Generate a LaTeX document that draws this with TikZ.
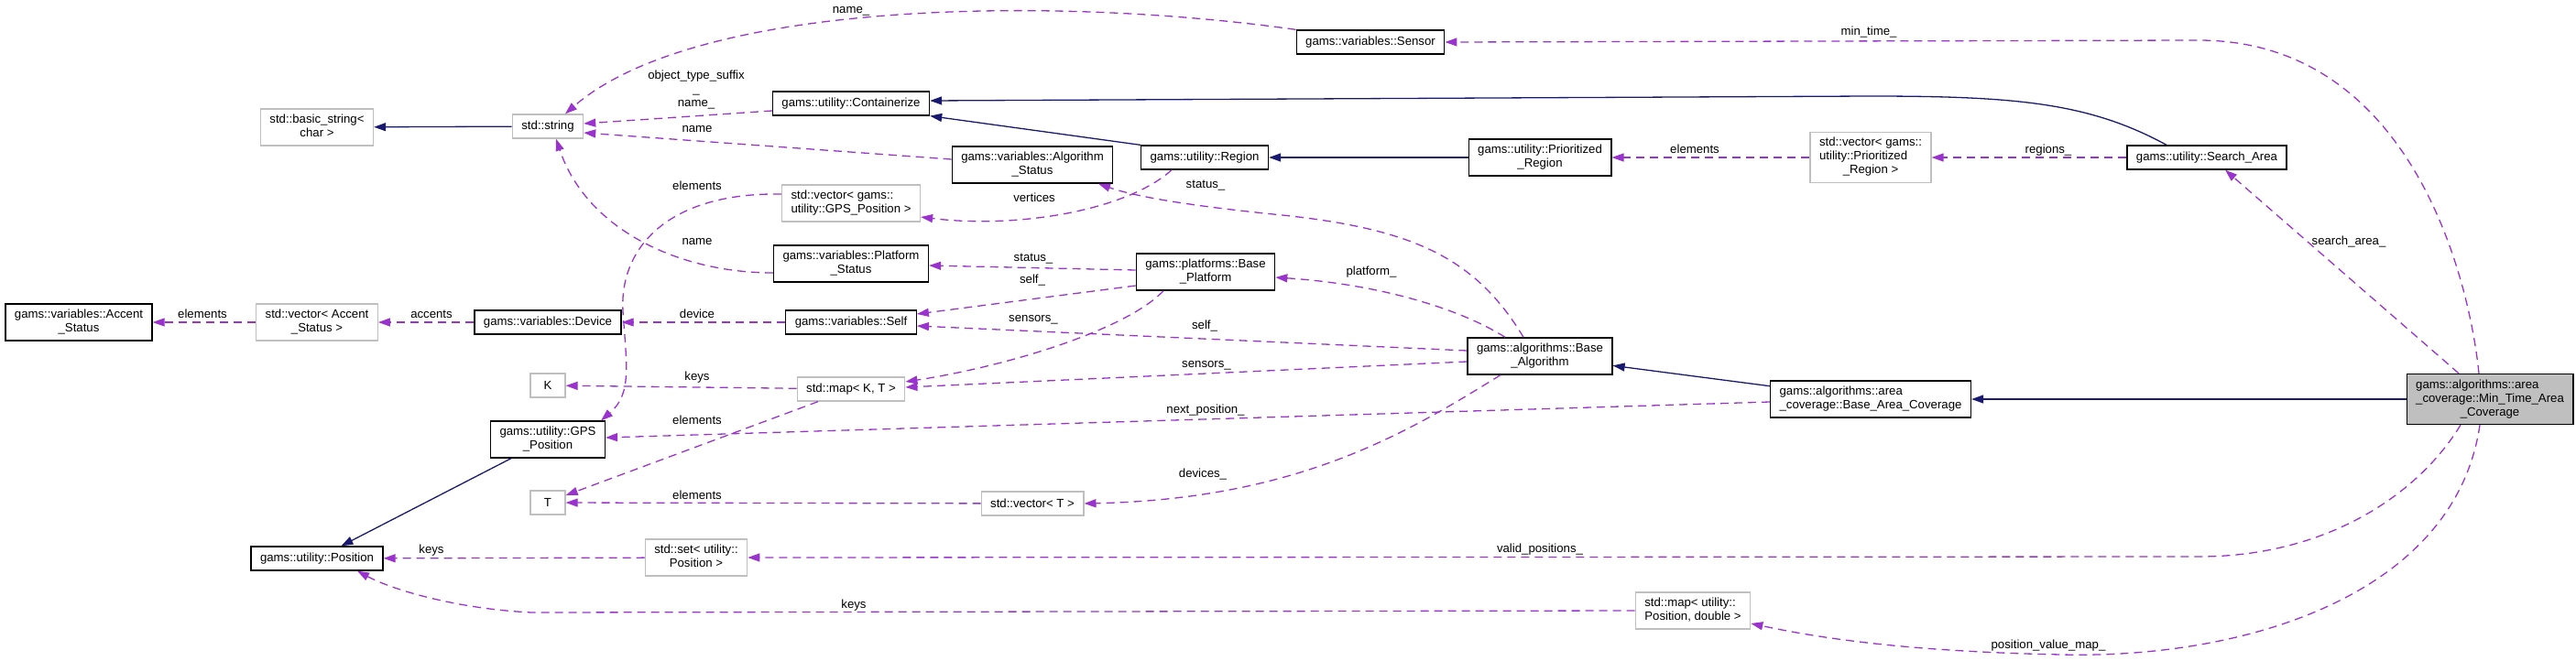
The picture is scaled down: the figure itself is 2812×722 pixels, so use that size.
\documentclass[tikz,border=0pt]{standalone}
\usepackage{fontspec}
\setmainfont{Liberation Sans}
\usetikzlibrary{arrows.meta}
\definecolor{inhblue}{HTML}{191970}
\definecolor{memberpurple}{HTML}{9A32CD}
\definecolor{tplgray}{HTML}{BFBFBF}
\newcommand\dfont{\fontsize{13.2pt}{15pt}\selectfont}
\newcommand\dlines[2]{\begin{tabular}{@{}l@{}}#1\\\multicolumn{1}{@{}c@{}}{#2}\end{tabular}}

\begin{document}
\begin{tikzpicture}[x=1pt, y=-1pt, font=\dfont,
    cls/.style={draw, line width=1.3pt, inner xsep=10pt, inner ysep=5pt, minimum height=26pt},
    tcls/.style={cls, draw=tplgray},
    inhline/.style={draw=inhblue, line width=1.3pt, -{Triangle[length=13pt, width=9pt]}},
    memline/.style={draw=memberpurple, line width=1.3pt, dash pattern=on 9pt off 6pt, -{Triangle[length=13pt, width=9pt]}},
    lbl/.style={inner sep=0pt, align=center}]
    \useasboundingbox (0,0) rectangle (2812,722);

    \node[cls] (sensor) at (1496,46) {gams::variables::Sensor};
    \node[cls] (contain) at (929,113) {gams::utility::Containerize};
    \node[tcls] (bstring) at (346,139) {\dlines{std::basic\_string<}{char >}};
    \node[tcls] (stdstr) at (598,138) {std::string};
    \node[cls] (algstat) at (1127,180) {\dlines{gams::variables::Algorithm}{\_Status}};
    \node[cls] (region) at (1315,172) {gams::utility::Region};
    \node[cls] (prireg) at (1681,172) {\dlines{gams::utility::Prioritized}{\_Region}};
    \node[tcls] (privec) at (2042,172) {\dlines{std::vector< gams::\\utility::Prioritized}{\_Region >}};
    \node[cls] (search) at (2409,172) {gams::utility::Search\_Area};
    \node[tcls] (gpsvec) at (929,222) {\dlines{std::vector< gams::}{utility::GPS\_Position >}};
    \node[cls] (platstat) at (929,288) {\dlines{gams::variables::Platform}{\_Status}};
    \node[cls] (baseplat) at (1316,297) {\dlines{gams::platforms::Base}{\_Platform}};
    \node[cls] (accent) at (86,352) {\dlines{gams::variables::Accent}{\_Status}};
    \node[tcls] (accvec) at (346,352) {\dlines{std::vector< Accent}{\_Status >}};
    \node[cls] (device) at (598,352) {gams::variables::Device};
    \node[cls] (self) at (929,352) {gams::variables::Self};
    \node[cls] (basealg) at (1681,389) {\dlines{gams::algorithms::Base}{\_Algorithm}};
    \node[tcls, minimum width=38pt] (kbox) at (598,421) {K};
    \node[tcls] (kmap) at (929,425) {std::map< K, T >};
    \node[cls] (gps) at (598,480) {\dlines{gams::utility::GPS}{\_Position}};
    \node[cls] (bac) at (2042,436) {\dlines{gams::algorithms::area}{\_coverage::Base\_Area\_Coverage}};
    \node[cls, fill=tplgray] (mintime) at (2718,436) {\dlines{gams::algorithms::area\\\_coverage::Min\_Time\_Area}{\_Coverage}};
    \node[tcls, minimum width=38pt] (tbox) at (598,549) {T};
    \node[tcls] (tvec) at (1127,550) {std::vector< T >};
    \node[cls] (pos) at (346,610) {gams::utility::Position};
    \node[tcls] (posset) at (760,609) {\dlines{std::set< utility::}{Position >}};
    \node[tcls] (posmap) at (1848,667) {\dlines{std::map< utility::}{Position, double >}};

    \draw[inhline] (stdstr) -- (bstring);
    \draw[inhline] (region.north west) -- (contain.south east);
    \draw[inhline] ([xshift=-44pt]search.north) .. controls (2280,112) and (2200,105) .. (2040,105) -- ([yshift=3pt]contain.east);
    \draw[inhline] (prireg) -- (region);
    \draw[inhline] (gps) -- (pos);
    \draw[inhline] (bac) -- (basealg);
    \draw[inhline] (mintime) -- (bac);

    \draw[memline] (sensor.north west) .. controls (1150,-5) and (760,0) .. ([xshift=19pt]stdstr.north) node[lbl, at={(929,12)}] {name\_};
    \draw[memline] ([yshift=-8pt]contain.west) -- ([yshift=3pt]stdstr.east) node[lbl, at={(760,98)}] {object\_type\_suffix\\\_\\name\_};
    \draw[memline] ([yshift=6pt]algstat.west) -- ([yshift=-7pt]stdstr.east) node[lbl, at={(761,141)}] {name};
    \draw[memline] ([yshift=-10pt]platstat.west) .. controls (740,298) and (640,250) .. ([xshift=9pt]stdstr.south) node[lbl, at={(761,264)}] {name};
    \draw[memline] ([yshift=10pt]gpsvec.west) .. controls (730,210) and (676,270) .. (680,340) .. controls (684,400) and (690,430) .. ([xshift=-5pt]gps.north east) node[lbl, at={(761,203)}] {elements};
    \draw[memline] ([xshift=-36pt]region.south) .. controls (1230,230) and (1110,250) .. ([yshift=-15pt]gpsvec.east) node[lbl, at={(1129,216)}] {vertices};
    \draw[memline] ([xshift=-18pt]basealg.north) .. controls (1610,280) and (1540,250) .. (1400,235) .. controls (1300,225) and (1240,215) .. ([xshift=72pt]algstat.south) node[lbl, at={(1316,203)}] {status\_};
    \draw[memline] ([yshift=2pt]baseplat.west) -- ([yshift=-2pt]platstat.east) node[lbl, at={(1128,283)}] {status\_};
    \draw[memline] ([yshift=-15pt]baseplat.west) -- ([yshift=9pt]self.east) node[lbl, at={(1127,306)}] {self\_};
    \draw[memline] ([xshift=-46pt]baseplat.south) .. controls (1230,360) and (1100,400) .. ([yshift=8pt]kmap.east) node[lbl, at={(1128,349)}] {sensors\_};
    \draw[memline] ([xshift=-38pt]basealg.north) .. controls (1590,335) and (1500,310) .. ([yshift=-6pt]baseplat.east) node[lbl, at={(1497,297)}] {platform\_};
    \draw[memline] ([yshift=6pt]basealg.west) -- ([yshift=-4pt]self.east) node[lbl, at={(1315,356)}] {self\_};
    \draw[memline] ([yshift=-6pt]basealg.west) -- ([yshift=2pt]kmap.east) node[lbl, at={(1317,399)}] {sensors\_};
    \draw[memline] ([xshift=-43pt]basealg.south) .. controls (1540,470) and (1420,545) .. (tvec.east) node[lbl, at={(1313,518)}] {devices\_};
    \draw[memline] (self) -- (device) node[lbl, at={(761,343)}] {device};
    \draw[memline] (device) -- (accvec) node[lbl, at={(471,343)}] {accents};
    \draw[memline] (accvec) -- (accent) node[lbl, at={(221,343)}] {elements};
    \draw[memline] (kmap) -- (kbox) node[lbl, at={(761,412)}] {keys};
    \draw[memline] ([xshift=-36pt]kmap.south) -- ([yshift=8pt]tbox.east) node[lbl, at={(761,459)}] {elements};
    \draw[memline] (tvec) -- (tbox) node[lbl, at={(761,541)}] {elements};
    \draw[memline] ([yshift=-3pt]bac.west) -- ([yshift=2pt]gps.east) node[lbl, at={(1316,448)}] {next\_position\_};
    \draw[memline] (posset) -- (pos) node[lbl, at={(471,601)}] {keys};
    \draw[memline] (posmap.west) -- (580,669) .. controls (500,665) and (430,645) .. ([xshift=44pt]pos.south) node[lbl, at={(932,661)}] {keys};
    \draw[memline] (privec) -- (prireg) node[lbl, at={(1850,163)}] {elements};
    \draw[memline] (search) -- (privec) node[lbl, at={(2236,164)}] {regions\_};
    \draw[memline] ([xshift=-12pt]mintime.north) .. controls (2695,300) and (2630,44) .. (2400,44) -- (sensor.east) node[lbl, at={(2040,35)}] {min\_time\_};
    \draw[memline] ([xshift=-34pt]mintime.north) -- ([xshift=20pt]search.south) node[lbl, at={(2564,264)}] {search\_area\_};
    \draw[memline] ([xshift=-32pt]mintime.south) .. controls (2640,540) and (2540,608) .. (2400,608) -- (posset.east) node[lbl, at={(1681,600)}] {valid\_positions\_};
    \draw[memline] ([xshift=-11pt]mintime.south) .. controls (2680,650) and (2450,720) .. (2250,715) .. controls (2100,712) and (2000,700) .. ([yshift=-14pt]posmap.east) node[lbl, at={(2236,705)}] {position\_value\_map\_};
\end{tikzpicture}
\end{document}
